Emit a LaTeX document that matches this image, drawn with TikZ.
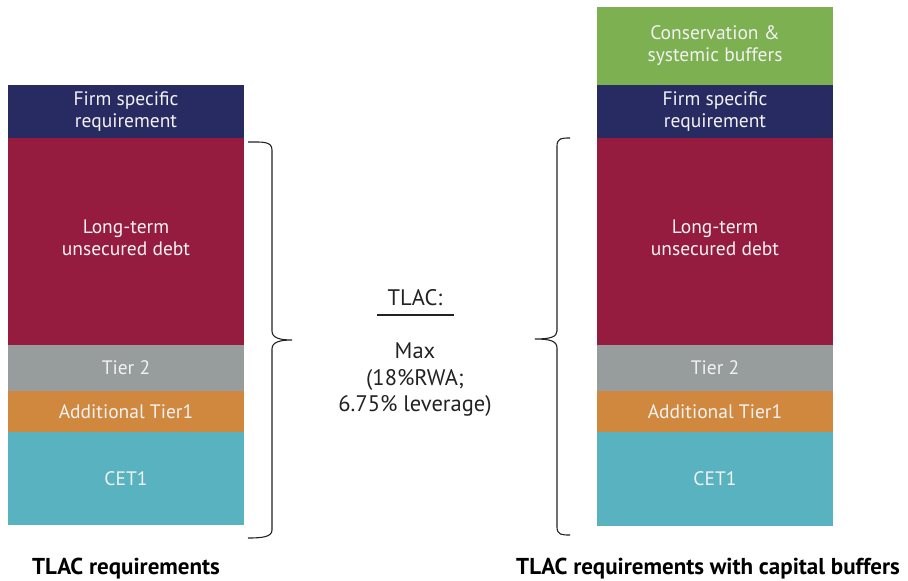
\documentclass[tikz,border=0pt]{standalone}
\usepackage{fontspec}
\setmainfont{PT Sans}
\definecolor{cnavy}{HTML}{282A62}
\definecolor{cred}{HTML}{951C3E}
\definecolor{cgray}{HTML}{979C9C}
\definecolor{corange}{HTML}{D0883F}
\definecolor{ccyan}{HTML}{58B2C0}
\definecolor{cgreen}{HTML}{7CB051}
\definecolor{ctext}{HTML}{F2F2F2}
\definecolor{cdark}{HTML}{222222}
\begin{document}
\begin{tikzpicture}[x=1pt,y=-1pt,
  blk/.style={rectangle, inner sep=0pt, outer sep=0pt, minimum width=236pt, text=ctext,
    font=\fontsize{19.5}{22}\selectfont, align=center},
  brc/.style={draw=cdark, line width=1.1pt},
  mid/.style={text=cdark, font=\fontsize{22.5}{27}\selectfont, align=center, inner sep=0pt},
  lbl/.style={text=black, font=\fontsize{23}{26}\selectfont\bfseries, inner sep=0pt, anchor=base}]
\useasboundingbox (0,0) rectangle (908,581);
% left column
\node[blk, fill=cnavy,   minimum height=53pt]  (lfirm) at (126,111.5) {Firm specific\\requirement};
\node[blk, fill=cred,    minimum height=207pt] (llong) at (126,241.5) {Long-term\\unsecured debt\\[-15pt]};
\node[blk, fill=cgray,   minimum height=46pt]  (ltier) at (126,368) {Tier 2};
\node[blk, fill=corange, minimum height=41pt]  (lat)   at (126,411.5) {Additional Tier1};
\node[blk, fill=ccyan,   minimum height=93pt]  (lcet)  at (126,478.5) {CET1};
% right column
\node[blk, fill=cgreen,  minimum height=78pt]  (rcons) at (715,46) {Conservation \&\\systemic buffers};
\node[blk, fill=cnavy,   minimum height=53pt]  (rfirm) at (715,111.5) {Firm specific\\requirement};
\node[blk, fill=cred,    minimum height=207pt] (rlong) at (715,241.5) {Long-term\\unsecured debt\\[-15pt]};
\node[blk, fill=cgray,   minimum height=46pt]  (rtier) at (715,368) {Tier 2};
\node[blk, fill=corange, minimum height=41pt]  (rat)   at (715,411.5) {Additional Tier1};
\node[blk, fill=ccyan,   minimum height=94pt]  (rcet)  at (715,479) {CET1};
% braces
\draw[brc] (248,142) .. controls (262,142) and (272,141) .. (272,150) -- (272,331)
  .. controls (272,338) and (280,340) .. (292,340)
  .. controls (280,340) and (272,342) .. (272,349) -- (272,530)
  .. controls (272,537) and (262,538) .. (248,538);
\draw[brc] (570,138) .. controls (562,138) and (557,138) .. (557,146) -- (557,331)
  .. controls (557,337) and (550,339) .. (535,339)
  .. controls (550,339) and (557,341) .. (557,348) -- (557,527)
  .. controls (557,535) and (562,535) .. (570,535);
% centre text
\node[mid, anchor=base] (tlac) at (415,305) {TLAC:};
\coordinate (ulA) at (377,315);
\coordinate (ulB) at (454,315);
\draw[cdark, line width=1.6pt] (ulA) -- (ulB);
\node[mid, anchor=base] (max) at (415,358) {Max};
\node[mid, anchor=base] (rwa) at (415,385) {(18\%RWA;};
\node[mid, anchor=base] (lev) at (415,411) {6.75\% leverage)};
% labels
\node[lbl] (llab) at (126,574) {TLAC requirements};
\node[lbl] (rlab) at (708,574) {TLAC requirements with capital buffers};
\end{tikzpicture}
\end{document}
